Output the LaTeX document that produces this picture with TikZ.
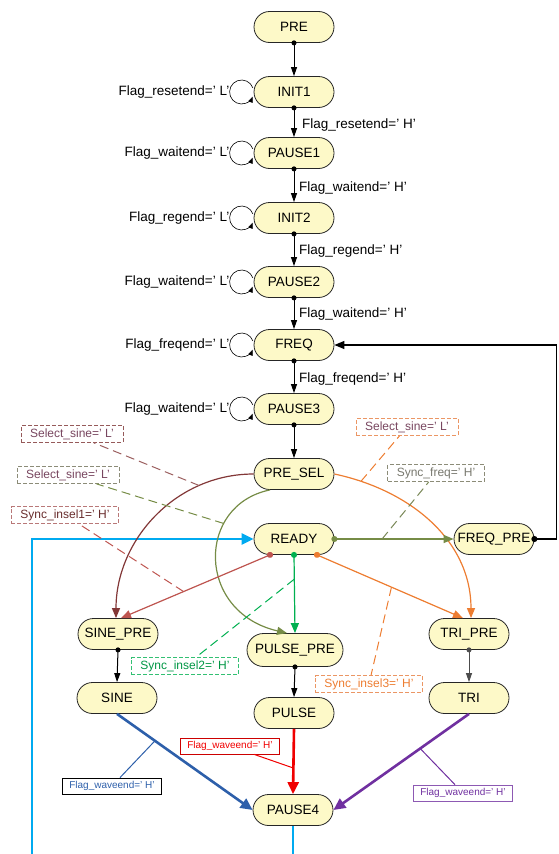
\documentclass[tikz,border=0pt]{standalone}
\usepackage{fontspec}
\setmainfont{Liberation Sans}
\usetikzlibrary{shapes.misc,arrows.meta,calc}
\definecolor{statefill}{RGB}{253,249,200}
\definecolor{cbrown}{RGB}{130,55,55}
\definecolor{cbrownbox}{RGB}{150,90,90}
\definecolor{cmauve}{RGB}{120,70,95}
\definecolor{colive}{RGB}{118,140,70}
\definecolor{colivebox}{RGB}{140,140,120}
\definecolor{cgraytext}{RGB}{120,120,110}
\definecolor{crose}{RGB}{190,85,80}
\definecolor{crosebox}{RGB}{185,120,120}
\definecolor{cgreen}{RGB}{0,176,80}
\definecolor{corange}{RGB}{237,125,49}
\definecolor{corangebox}{RGB}{235,150,100}
\definecolor{ccyan}{RGB}{0,170,240}
\definecolor{cblue}{RGB}{45,95,170}
\definecolor{cpurple}{RGB}{112,48,160}
\definecolor{cred}{RGB}{240,0,0}
\tikzset{
  state/.style={draw=black!85, fill=statefill, rounded rectangle, minimum width=80, minimum height=31, inner sep=0, line width=0.8, font=\fontsize{13.5}{15}\selectfont},
  lbl/.style={inner sep=1, font=\fontsize{13.5}{15}\selectfont},
  dbox/.style={draw, dash pattern=on 4pt off 2pt, line width=0.7, inner xsep=9, inner ysep=2, minimum height=17, font=\fontsize{12}{13}\selectfont},
  wbox/.style={draw, line width=0.8, inner xsep=7, inner ysep=2, minimum height=16, font=\fontsize{10}{11}\selectfont},
  chain/.style={line width=1, {Circle[length=5pt]}-{Triangle[length=9pt,width=6pt]}, shorten <=-2.5pt},
  dotarrow/.style={line width=1.2, {Circle[length=6pt]}-{Triangle[length=10pt,width=8pt]}, shorten <=-3pt},
  thick arrow/.style={line width=2.6, -{Triangle[length=12pt,width=11pt]}},
  looparrow/.style={line width=0.6, -{Triangle[length=6pt,width=4.5pt]}},
  leader/.style={dash pattern=on 9pt off 5pt, line width=1},
}
\begin{document}
\begin{tikzpicture}[x=1pt,y=-1pt]
\useasboundingbox (0,0) rectangle (559,854);
% states
\node[state] (PRE) at (294,27) {PRE};
\node[state] (INIT1) at (294,92) {INIT1};
\node[state] (PAUSE1) at (294,153) {PAUSE1};
\node[state] (INIT2) at (294,218) {INIT2};
\node[state] (PAUSE2) at (294,282) {PAUSE2};
\node[state] (FREQ) at (294,345) {FREQ};
\node[state] (PAUSE3) at (294,409) {PAUSE3};
\node[state] (PRESEL) at (294,474) {PRE\_SEL};
\node[state] (READY) at (294,539) {READY};
\node[state] (FREQPRE) at (494,539) {FREQ\_PRE};
\node[state] (SINEPRE) at (118,634) {SINE\_PRE};
\node[state] (TRIPRE) at (469,634) {TRI\_PRE};
\node[state, minimum width=96, minimum height=33] (PULSEPRE) at (295,650) {PULSE\_PRE};
\node[state] (SINE) at (117,698) {SINE};
\node[state] (PULSE) at (294,713) {PULSE};
\node[state] (TRI) at (469,698) {TRI};
\node[state] (PAUSE4) at (293,810) {PAUSE4};
% self loops
\foreach \n/\t in {INIT1/resetend, PAUSE1/waitend, INIT2/regend, PAUSE2/waitend, FREQ/freqend, PAUSE3/waitend}{
  \draw[looparrow] ([xshift=-12]\n.west) ++(-20:12) arc[start angle=-20, end angle=-338, radius=12];
  \node[lbl, anchor=east] at ([xshift=-23]\n.west) {Flag\_\t=’ L’};
}
% main chain
\draw[chain] (PRE.south) -- (INIT1.north);
\draw[chain] (INIT1.south) -- (PAUSE1.north);
\draw[chain] (PAUSE1.south) -- (INIT2.north);
\draw[chain] (INIT2.south) -- (PAUSE2.north);
\draw[chain] (PAUSE2.south) -- (FREQ.north);
\draw[chain] (FREQ.south) -- (PAUSE3.north);
\draw[chain] (PAUSE3.south) -- (PRESEL.north);
\node[lbl, anchor=west] at (301,125) {Flag\_resetend=’ H’};
\node[lbl, anchor=west] at (298,188) {Flag\_waitend=’ H’};
\node[lbl, anchor=west] at (298,251) {Flag\_regend=’ H’};
\node[lbl, anchor=west] at (298,314) {Flag\_waitend=’ H’};
\node[lbl, anchor=west] at (298,379) {Flag\_freqend=’ H’};
% lower chains
\draw[chain] (SINEPRE.south) -- (SINE.north);
\draw[chain] (PULSEPRE.south) -- (PULSE.north);
\draw[chain, draw=black!70] (TRIPRE.south) -- (TRI.north);
% freq_pre back to freq
\draw[line width=1.2, {Circle[length=6pt]}-{Triangle[length=10pt,width=8pt]}, shorten <=-3pt] (FREQPRE.east) -- ++(22,0) |- (FREQ.east);
% cyan return
\coordinate (bl) at (32,866);
\draw[line width=2.6, draw=ccyan, -{Triangle[length=12pt,width=11pt]}] (PAUSE4.south) -- (PAUSE4.south |- bl) -- (bl) -- (bl |- READY.west) -- (READY.west);
% PRE_SEL curves
\draw[line width=1.2, draw=cbrown, -{Triangle[length=10pt,width=8pt]}] (PRESEL.west) to[out=180,in=90] coordinate[pos=0.25] (pb) ([xshift=-2]SINEPRE.north);
\draw[line width=1.2, draw=corange, -{Triangle[length=10pt,width=8pt]}] (PRESEL.east) to[out=-12,in=90] coordinate[pos=0.12] (po) ([xshift=2]TRIPRE.north);
\draw[line width=1.2, draw=colive, -{Triangle[length=10pt,width=8pt]}] ([xshift=-24]PRESEL.south) .. controls (196,505) and (196,612) .. coordinate[pos=0.3] (pg) ([xshift=-8]PULSEPRE.north);
% READY edges
\draw[dotarrow, draw=crose, fill=crose] ([xshift=-24]READY.south) -- coordinate[pos=0.58] (pr) ([xshift=3]SINEPRE.north);
\draw[dotarrow, draw=cgreen, fill=cgreen] (READY.south) -- coordinate[pos=0.31] (pgr) (PULSEPRE.north);
\draw[dotarrow, draw=corange, fill=corange] ([xshift=23]READY.south) -- coordinate[pos=0.51] (por) ([xshift=-6]TRIPRE.north);
\draw[dotarrow, draw=colive, fill=colive] (READY.east) -- coordinate[pos=0.4] (pol) (FREQPRE.west);
% wave ends
\draw[thick arrow, draw=cblue] (SINE.south) -- coordinate[pos=0.28] (pbl) (PAUSE4.west);
\draw[thick arrow, draw=cred] (PULSE.south) -- coordinate[pos=0.6] (prd) (PAUSE4.north);
\draw[thick arrow, draw=cpurple] (TRI.south) -- coordinate[pos=0.36] (ppu) (PAUSE4.east);
% condition boxes
\node[dbox, draw=cbrownbox, text=cmauve] (b1) at (72,434) {Select\_sine=’ L’};
\node[dbox, draw=colivebox, text=cmauve] (b2) at (68,475) {Select\_sine=’ L’};
\node[dbox, draw=crosebox, text=cbrown!80!black] (b3) at (65,515) {Sync\_insel1=’ H’};
\node[dbox, draw=corangebox, text=cmauve] (b4) at (407,427) {Select\_sine=’ L’};
\node[dbox, draw=colivebox, text=cgraytext] (b5) at (436,473) {Sync\_freq=’ H’};
\node[dbox, draw=cgreen!80!white, text=cgreen!85!black] (b6) at (185,666) {Sync\_insel2=’ H’};
\node[dbox, draw=corangebox, text=corange] (b7) at (369,684) {Sync\_insel3=’ H’};
\node[wbox, draw=black, text=cblue] (w1) at (112,786) {Flag\_waveend=’ H’};
\node[wbox, draw=cred!85!black, text=cred] (w2) at (230,746) {Flag\_waveend=’ H’};
\node[wbox, draw=cpurple!80!white, text=cpurple] (w3) at (463,793) {Flag\_waveend=’ H’};
% leaders
\draw[leader, draw=cbrown!80] (pb) -- (b1);
\draw[leader, draw=colive] (pg) -- (b2);
\draw[leader, draw=crose] (pr) -- (b3);
\draw[leader, draw=corange] (po) -- (b4);
\draw[leader, draw=colive!70!gray] (pol) -- (b5);
\draw[leader, draw=cgreen] (pgr) -- (b6);
\draw[leader, draw=corange] (por) -- (b7);
\draw[line width=1, draw=cblue] (pbl) -- (w1);
\draw[line width=1, draw=cred] (prd) -- (w2);
\draw[line width=1, draw=cpurple] (ppu) -- (w3);
\end{tikzpicture}
\end{document}
